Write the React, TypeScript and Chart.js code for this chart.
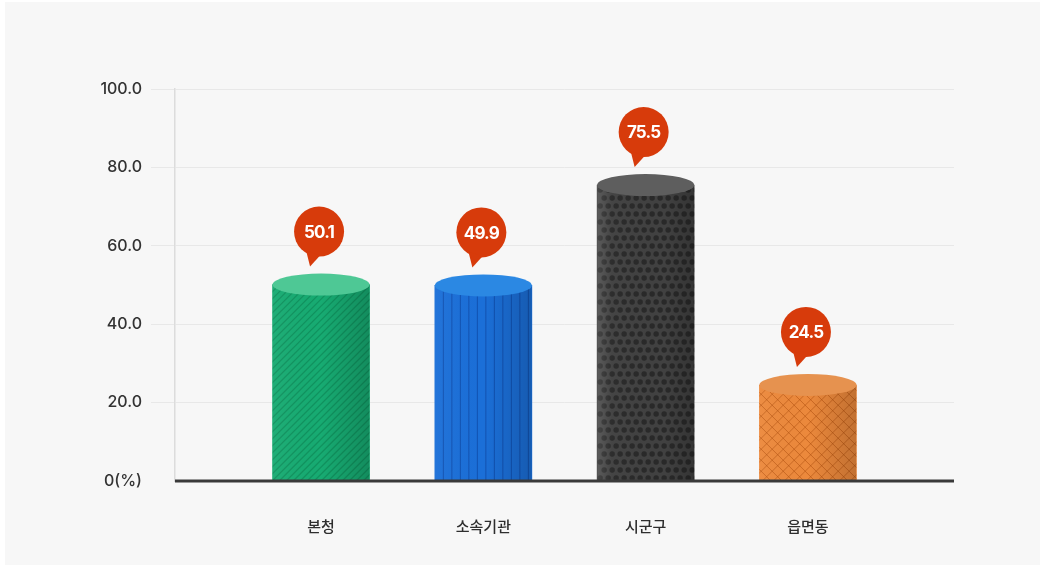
import React, { useEffect, useRef } from 'react';
import { Chart, registerables } from 'chart.js';

Chart.register(...registerables);

const categories = ['본청', '소속기관', '시군구', '읍면동'];
const values = [50.1, 49.9, 75.5, 24.5];
const yMax = 100;
const yStep = 20;
const bodyColors = ['#17ab72', '#1b6fd8', '#414141', '#ec893c'];
const topColors = ['#4ec895', '#2b88e3', '#5e5e5e', '#e6924f'];
const patterns = ['hatch', 'stripes', 'dots', 'cross'];

const W = 1040;
const H = 565;
const RY = 11;

function drawPattern(ctx: CanvasRenderingContext2D, kind: string, x0: number, y0: number, w: number, h: number) {
  ctx.lineWidth = 1;
  if (kind === 'hatch') {
    ctx.strokeStyle = 'rgba(0,90,50,0.3)';
    ctx.lineWidth = 1.2;
    for (let k = -h; k < w + h; k += 7) {
      ctx.beginPath();
      ctx.moveTo(x0 + k, y0 + h);
      ctx.lineTo(x0 + k + h, y0);
      ctx.stroke();
    }
  } else if (kind === 'stripes') {
    ctx.strokeStyle = 'rgba(5,40,120,0.4)';
    for (let k = 8.5; k < w; k += 8.5) {
      ctx.beginPath();
      ctx.moveTo(x0 + k, y0);
      ctx.lineTo(x0 + k, y0 + h);
      ctx.stroke();
    }
  } else if (kind === 'dots') {
    ctx.fillStyle = '#292929';
    let row = 0;
    for (let yy = y0 + 5; yy < y0 + h + 8; yy += 8, row++) {
      const off = row % 2 ? 4 : 0;
      for (let xx = x0 + 3 + off; xx < x0 + w + 4; xx += 8) {
        ctx.beginPath();
        ctx.arc(xx, yy, 2.7, 0, Math.PI * 2);
        ctx.fill();
      }
    }
  } else if (kind === 'cross') {
    ctx.strokeStyle = 'rgba(175,80,15,0.55)';
    for (let k = -h; k < w + h; k += 11) {
      ctx.beginPath();
      ctx.moveTo(x0 + k, y0 + h);
      ctx.lineTo(x0 + k + h, y0);
      ctx.stroke();
      ctx.beginPath();
      ctx.moveTo(x0 + k, y0);
      ctx.lineTo(x0 + k + h, y0 + h);
      ctx.stroke();
    }
  }
}

const cylinderPlugin = {
  id: 'cylinders',
  beforeDraw(chart: any) {
    const ctx = chart.ctx;
    ctx.save();
    ctx.fillStyle = '#ffffff';
    ctx.fillRect(0, 0, W, H);
    ctx.fillStyle = '#f7f7f7';
    ctx.fillRect(5, 2, W - 5, H - 2);
    ctx.restore();
  },
  afterDatasetsDraw(chart: any) {
    const ctx: CanvasRenderingContext2D = chart.ctx;
    const meta = chart.getDatasetMeta(0);
    const yScale = chart.scales.y;
    const area = chart.chartArea;
    meta.data.forEach((bar: any, i: number) => {
      const { x, y, base, width } = bar.getProps(['x', 'y', 'base', 'width'], true);
      const x0 = x - width / 2;
      const h = base - y;
      ctx.save();
      ctx.beginPath();
      ctx.rect(x0, y, width, h);
      ctx.clip();
      drawPattern(ctx, patterns[i], x0, y, width, h);
      const g = ctx.createLinearGradient(x0, 0, x0 + width, 0);
      if (patterns[i] === 'dots') {
        g.addColorStop(0, 'rgba(255,255,255,0.14)');
        g.addColorStop(0.15, 'rgba(255,255,255,0.02)');
        g.addColorStop(0.7, 'rgba(0,0,0,0)');
        g.addColorStop(1, 'rgba(0,0,0,0.2)');
      } else {
        g.addColorStop(0, 'rgba(255,255,255,0.04)');
        g.addColorStop(0.5, 'rgba(0,0,0,0)');
        g.addColorStop(1, 'rgba(0,0,0,0.18)');
      }
      ctx.fillStyle = g;
      ctx.fillRect(x0, y, width, h);
      ctx.restore();

      ctx.save();
      ctx.beginPath();
      ctx.ellipse(x, y, width / 2, RY, 0, 0, Math.PI * 2);
      ctx.fillStyle = topColors[i];
      ctx.fill();
      ctx.restore();
    });

    const yb = yScale.getPixelForValue(0);
    ctx.save();
    ctx.strokeStyle = '#3a3a3a';
    ctx.lineWidth = 3;
    ctx.beginPath();
    ctx.moveTo(area.left, yb);
    ctx.lineTo(area.right, yb);
    ctx.stroke();
    ctx.restore();

    meta.data.forEach((bar: any, i: number) => {
      const { x, y } = bar.getProps(['x', 'y'], true);
      const cx = x - 2;
      const cy = y - 53;
      const r = 25;
      ctx.save();
      ctx.fillStyle = '#d73b0b';
      ctx.beginPath();
      ctx.arc(cx, cy, r, 0, Math.PI * 2);
      ctx.fill();
      ctx.beginPath();
      ctx.moveTo(cx - 13, cy + 19);
      ctx.lineTo(cx + 1, cy + 24);
      ctx.lineTo(cx - 9, y - 18);
      ctx.closePath();
      ctx.fill();
      ctx.fillStyle = '#ffffff';
      ctx.font = 'bold 17px Inter, "Noto Sans", sans-serif';
      (ctx as any).letterSpacing = '-0.8px';
      ctx.textAlign = 'center';
      ctx.textBaseline = 'middle';
      ctx.fillText(values[i].toFixed(1), cx, cy + 1);
      ctx.restore();
    });
  },
};

export default function App() {
  const ref = useRef<HTMLCanvasElement>(null);
  useEffect(() => {
    if (!ref.current) return;
    const chart = new Chart(ref.current, {
      type: 'bar',
      data: {
        datasets: [
          {
            data: values.map((v, i) => ({ x: i, y: v })),
            backgroundColor: bodyColors,
            borderWidth: 0,
            barThickness: 97,
          },
        ],
      },
      options: {
        animation: false,
        responsive: false,
        devicePixelRatio: 1,
        layout: { padding: { top: 89, right: 86, left: 0, bottom: 0 } },
        plugins: { legend: { display: false }, tooltip: { enabled: false } },
        scales: {
          x: {
            type: 'linear',
            min: -0.9,
            max: 3.9,
            offset: false,
            grid: { display: false, drawTicks: false },
            border: { display: false },
            afterFit: (s: any) => {
              s.height = 84;
            },
            ticks: {
              stepSize: 1,
              autoSkip: false,
              maxRotation: 0,
              padding: 36,
              color: '#2e2e2e',
              font: { family: '"Noto Sans CJK KR", sans-serif', size: 15, weight: '500' },
              callback: (v: any) => (Number.isInteger(v) && categories[v] ? categories[v] : ''),
            },
          },
          y: {
            min: 0,
            max: yMax,
            afterFit: (s: any) => {
              s.width = 175;
            },
            grid: {
              color: (c: any) => (c.tick && c.tick.value === 0 ? 'rgba(0,0,0,0)' : '#e8e8e8'),
              lineWidth: 1,
              tickLength: 24,
            },
            border: { color: '#dcdcdc', width: 1.5 },
            ticks: {
              stepSize: yStep,
              padding: 9,
              color: '#333333',
              font: { family: 'Inter, "Noto Sans", sans-serif', size: 16, weight: '500' },
              callback: (v: any) => (v === 0 ? '0(%)' : Number(v).toFixed(1)),
            },
          },
        },
      },
      plugins: [cylinderPlugin],
    });
    return () => chart.destroy();
  }, []);
  return (
    <div style={{ position: 'absolute', left: 0, top: 0, width: W, height: H, background: '#fff' }}>
      <canvas ref={ref} width={W} height={H} style={{ display: 'block' }} />
    </div>
  );
}
